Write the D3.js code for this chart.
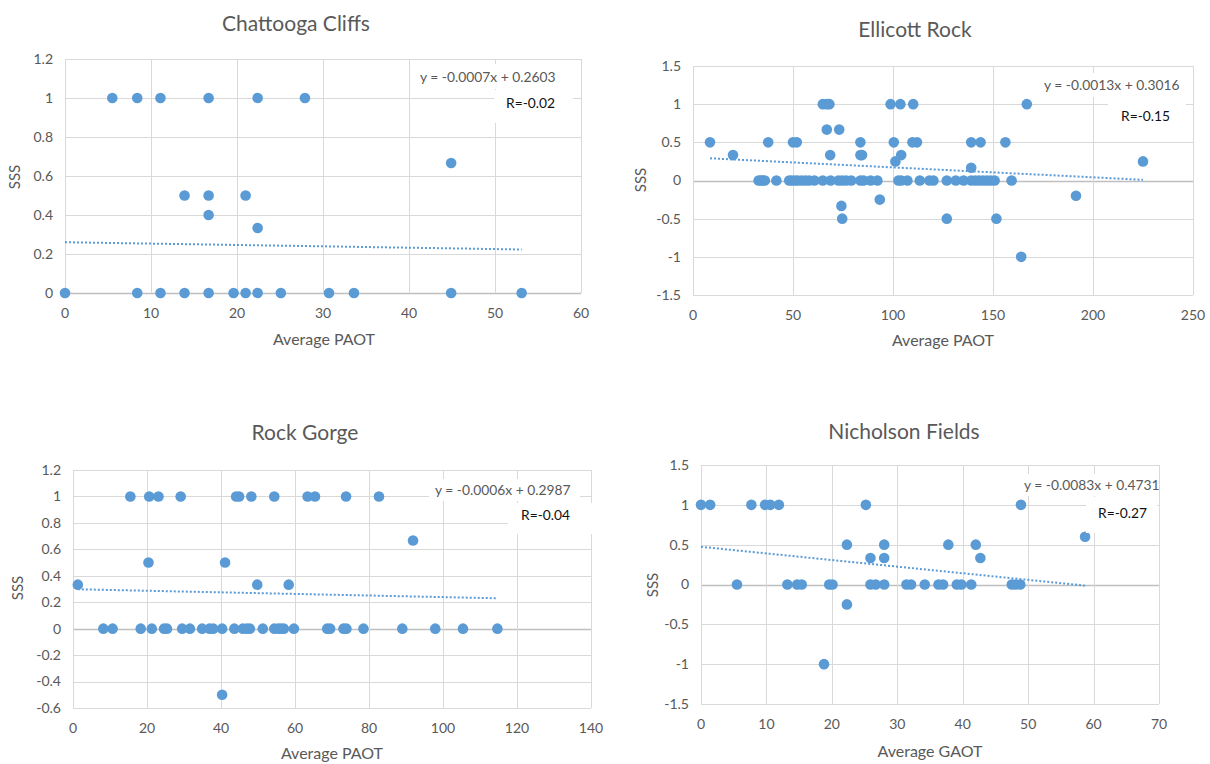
<!DOCTYPE html>
<html>
<head>
<meta charset="utf-8">
<script src="https://cdn.jsdelivr.net/npm/d3@7"></script>
<style>
  body { margin: 0; background: #fff; }
  text { font-family: Lato, "Open Sans", sans-serif; fill: #595959; }
</style>
</head>
<body>
<div id="chart"></div>
<script>
// ---- data: [x, SSS] ----
var chattoogaPts = [
  [5.5,1],[8.4,1],[11.1,1],[16.7,1],[22.4,1],[27.9,1],
  [44.9,0.667],
  [13.9,0.5],[16.7,0.5],[21.0,0.5],
  [16.7,0.4],[22.4,0.333],
  [0,0],[8.4,0],[11.1,0],[13.9,0],[16.7,0],[19.6,0],[21.0,0],[22.4,0],[25.1,0],[30.7,0],[33.6,0],[44.9,0],[53.1,0]
];

var ellicottPts = [
  [64.9,1],[66.9,1],[68.2,1],[98.8,1],[103.7,1],[110.1,1],[166.9,1],
  [66.9,0.667],[73.1,0.667],
  [8.5,0.5],[37.6,0.5],[50,0.5],[51.9,0.5],[83.7,0.5],[100.4,0.5],[109.7,0.5],[112,0.5],[139.1,0.5],[143.8,0.5],[156.2,0.5],
  [20,0.333],[68.6,0.333],[83.7,0.333],[84.5,0.333],[104.1,0.333],
  [101.2,0.25],[225,0.25],[139.1,0.167],
  [32.8,0],[33.9,0],[34.9,0],[35.9,0],[41.7,0],[48.1,0],[49.4,0],[51,0],[52.3,0],[54.3,0],[56.2,0],[58.1,0],[60.7,0],
  [64.9,0],[68.8,0],[72.7,0],[74.6,0],[76.6,0],[79.1,0],[83.7,0],[85.3,0],[88.8,0],[92.2,0],[102.7,0],[104.1,0],
  [107.2,0],[113.4,0],[118.2,0],[120.2,0],[126.9,0],[131.4,0],[135.3,0],[139.1,0],[141.1,0],[143,0],[145,0],
  [146.9,0],[148.8,0],[150.8,0],[159.3,0],
  [191.5,-0.2],[93.4,-0.25],[74.2,-0.333],
  [74.6,-0.5],[126.9,-0.5],[151.7,-0.5],
  [164.1,-1]
];

var rockGorgePts = [
  [15.5,1],[20.6,1],[23.1,1],[29.1,1],[44.1,1],[44.9,1],[48.2,1],[54.4,1],[63.4,1],[65.4,1],[73.8,1],[82.7,1],
  [91.9,0.667],
  [20.4,0.5],[41.1,0.5],
  [1.3,0.333],[49.8,0.333],[58.3,0.333],
  [8.2,0],[10.7,0],[18.3,0],[21.3,0],[24.6,0],[25.4,0],[29.5,0],[31.6,0],[34.9,0],[36.9,0],[37.9,0],[40.3,0],
  [43.6,0],[45.9,0],[47,0],[47.8,0],[51.3,0],[54.4,0],[55.5,0],[56.2,0],[57,0],[59.7,0],[68.7,0],[69.5,0],
  [73.1,0],[73.9,0],[78.5,0],[89,0],[97.9,0],[105.4,0],[114.7,0],
  [40.3,-0.5]
];

var nicholsonPts = [
  [0,1],[1.4,1],[7.7,1],[9.8,1],[10.6,1],[11.9,1],[25.2,1],[48.9,1],
  [58.7,0.6],
  [22.3,0.5],[28,0.5],[37.8,0.5],[42,0.5],
  [25.9,0.333],[28,0.333],[42.7,0.333],
  [5.5,0],[13.2,0],[14.7,0],[15.4,0],[19.6,0],[20.1,0],[25.9,0],[26.7,0],[28,0],[31.4,0],[32.1,0],[34.2,0],
  [36.3,0],[37,0],[39.1,0],[39.8,0],[41.3,0],[47.5,0],[48.1,0],[48.8,0],
  [22.3,-0.25],
  [18.8,-1]
];

var titles = ["Chattooga Cliffs", "Ellicott Rock", "Rock Gorge", "Nicholson Fields"];
var xLabels = ["Average PAOT", "Average PAOT", "Average PAOT", "Average GAOT"];
var slopes = [-0.0007, -0.0013, -0.0006, -0.0083];
var intercepts = [0.2603, 0.3016, 0.2987, 0.4731];
var eqLabels = ["y = -0.0007x + 0.2603", "y = -0.0013x + 0.3016", "y = -0.0006x + 0.2987", "y = -0.0083x + 0.4731"];
var rLabels = ["R=-0.02", "R=-0.15", "R=-0.04", "R=-0.27"];
var xDomains = [[0, 60], [0, 250], [0, 140], [0, 70]];
var xSteps = [10, 50, 20, 10];
var yDomains = [[0, 1.2], [-1.5, 1.5], [-0.6, 1.2], [-1.5, 1.5]];
var ySteps = [0.2, 0.5, 0.2, 0.5];
var allPts = [chattoogaPts, ellicottPts, rockGorgePts, nicholsonPts];

// layout of each panel (pixels)
var layout = [
  {l: 65, r: 581, t: 59, b: 293, title: [296, 24], xl: [324, 339], yl: [15, 177],
   eq: [420, 77], eqBox: [414, 64, 152, 25], rBox: [494, 90, 79, 33], rTxt: [506, 103]},
  {l: 693, r: 1193, t: 66, b: 295, title: [915, 30], xl: [943, 340], yl: [641, 180],
   eq: [1044, 85], eqBox: [1038, 73, 148, 24], rBox: [1108, 97, 78, 33], rTxt: [1121, 116]},
  {l: 73, r: 591, t: 470, b: 708, title: [305, 433], xl: [332, 753], yl: [18, 588],
   eq: [435, 490], eqBox: [429, 479, 151, 22], rBox: [508, 503, 86, 31], rTxt: [521, 515]},
  {l: 701, r: 1159, t: 465, b: 704, title: [904, 432], xl: [930, 751], yl: [653, 585],
   eq: [1024, 485], eqBox: [1018, 474, 136, 22], rBox: [1086, 497, 71, 36], rTxt: [1098, 513]}
];

var blue = "#5B9BD5";

var svg = d3.select("#chart").append("svg")
    .attr("width", 1210)
    .attr("height", 764);

var fmt = function(v) { return String(+v.toFixed(2)); };

function range(d, step) {
  var out = [];
  var n = Math.round((d[1] - d[0]) / step);
  for (var i = 0; i <= n; i++) out.push(+(d[0] + i * step).toFixed(4));
  return out;
}

allPts.forEach(function(pts, i) {
  var L = layout[i];
  var g = svg.append("g");

  var x = d3.scaleLinear().domain(xDomains[i]).range([L.l, L.r]);
  var y = d3.scaleLinear().domain(yDomains[i]).range([L.b, L.t]);
  var xt = range(xDomains[i], xSteps[i]);
  var yt = range(yDomains[i], ySteps[i]);

  // gridlines
  g.selectAll(".hg").data(yt).join("line")
    .attr("x1", L.l).attr("x2", L.r)
    .attr("y1", function(d) { return Math.round(y(d)) + 0.5; })
    .attr("y2", function(d) { return Math.round(y(d)) + 0.5; })
    .attr("stroke", function(d) { return d === 0 ? "#BFBFBF" : "#D9D9D9"; })
    .attr("stroke-width", function(d) { return d === 0 ? 1.5 : 1; });
  g.selectAll(".vg").data(xt).join("line")
    .attr("y1", L.t).attr("y2", L.b)
    .attr("x1", function(d) { return Math.round(x(d)) + 0.5; })
    .attr("x2", function(d) { return Math.round(x(d)) + 0.5; })
    .attr("stroke", "#D9D9D9");

  // tick labels
  g.selectAll(".yt").data(yt).join("text")
    .attr("x", L.l - 12).attr("y", function(d) { return y(d); })
    .attr("dy", "0.35em").attr("text-anchor", "end")
    .style("font-size", "14px")
    .text(fmt);
  g.selectAll(".xt").data(xt).join("text")
    .attr("x", function(d) { return x(d); }).attr("y", L.b + 20)
    .attr("dy", "0.35em").attr("text-anchor", "middle")
    .style("font-size", "14px")
    .text(fmt);

  // trendline (dotted), over the extent of the data
  var ext = d3.extent(pts, function(d) { return d[0]; });
  g.append("line")
    .attr("x1", x(ext[0])).attr("x2", x(ext[1]))
    .attr("y1", y(slopes[i] * ext[0] + intercepts[i]))
    .attr("y2", y(slopes[i] * ext[1] + intercepts[i]))
    .attr("stroke", blue).attr("stroke-width", 2)
    .attr("stroke-dasharray", "2,2");

  // points
  g.selectAll(".pt").data(pts).join("circle")
    .attr("cx", function(d) { return x(d[0]); })
    .attr("cy", function(d) { return y(d[1]); })
    .attr("r", 5.3)
    .attr("fill", blue);

  // equation label and R box
  g.append("rect")
    .attr("x", L.eqBox[0]).attr("y", L.eqBox[1])
    .attr("width", L.eqBox[2]).attr("height", L.eqBox[3])
    .attr("fill", "#fff");
  g.append("text")
    .attr("x", L.eq[0]).attr("y", L.eq[1]).attr("dy", "0.35em")
    .style("font-size", "13.8px")
    .text(eqLabels[i]);
  g.append("rect")
    .attr("x", L.rBox[0]).attr("y", L.rBox[1])
    .attr("width", L.rBox[2]).attr("height", L.rBox[3])
    .attr("fill", "#fff");
  g.append("text")
    .attr("x", L.rTxt[0]).attr("y", L.rTxt[1]).attr("dy", "0.35em")
    .style("font-size", "13.8px").style("fill", "#111")
    .text(rLabels[i]);

  // titles
  g.append("text")
    .attr("x", L.title[0]).attr("y", L.title[1]).attr("dy", "0.35em")
    .attr("text-anchor", "middle")
    .style("font-size", "21px")
    .text(titles[i]);
  g.append("text")
    .attr("x", L.xl[0]).attr("y", L.xl[1]).attr("dy", "0.35em")
    .attr("text-anchor", "middle")
    .style("font-size", "16px")
    .text(xLabels[i]);
  g.append("text")
    .attr("transform", "translate(" + L.yl[0] + "," + L.yl[1] + ") rotate(-90)")
    .attr("dy", "0.35em")
    .attr("text-anchor", "middle")
    .style("font-size", "15px")
    .text("SSS");
});
</script>
</body>
</html>
